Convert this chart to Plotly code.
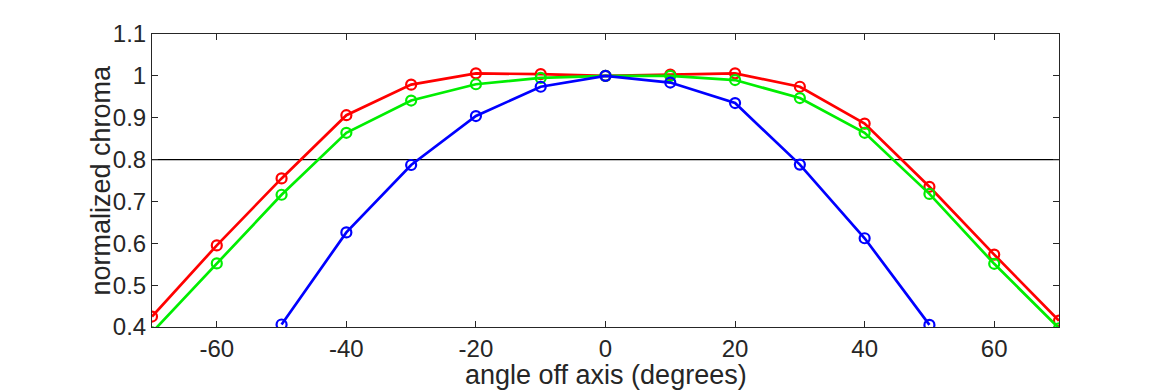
import plotly.graph_objects as go

angles = [-70, -60, -50, -40, -30, -20, -10, 0, 10, 20, 30, 40, 50, 60, 70]
red_vals = [0.425, 0.595, 0.755, 0.906, 0.979, 1.006, 1.004, 1.0, 1.003, 1.006, 0.974, 0.886, 0.735, 0.573, 0.415]
green_vals = [0.387, 0.552, 0.716, 0.864, 0.941, 0.980, 0.995, 1.0, 1.0, 0.990, 0.947, 0.864, 0.718, 0.551, 0.397]
blue_angles = [-50, -40, -30, -20, -10, 0, 10, 20, 30, 40, 50]
blue_vals = [0.406, 0.626, 0.787, 0.904, 0.974, 1.0, 0.984, 0.935, 0.788, 0.612, 0.405]
threshold = 0.8

x_ticks = [-60, -40, -20, 0, 20, 40, 60]
x_ticktext = ["-60", "-40", "-20", "0", "20", "40", "60"]
y_ticks = [0.4, 0.5, 0.6, 0.7, 0.8, 0.9, 1.0, 1.1]
y_ticktext = ["0.4", "0.5", "0.6", "0.7", "0.8", "0.9", "1", "1.1"]
x_title = "angle off axis (degrees)"
y_title = "normalized chroma"

FONT = "Liberation Sans, Arial, Helvetica, sans-serif"
AX = "#262626"

fig = go.Figure()

fig.add_trace(go.Scatter(
    x=[angles[0], angles[-1]], y=[threshold, threshold], mode="lines",
    line=dict(color="black", width=1.2), showlegend=False, hoverinfo="skip"))

for xs, ys, col in [(angles, red_vals, "#ff0000"),
                    (angles, green_vals, "#00ee00"),
                    (blue_angles, blue_vals, "#0000ff")]:
    fig.add_trace(go.Scatter(
        x=xs, y=ys, mode="lines+markers",
        line=dict(color=col, width=2.7),
        marker=dict(symbol="circle-open", size=10, color=col, line=dict(width=2.2, color=col)),
        showlegend=False))

# page body has an 8px default margin, so the figure is sized to compensate
fig.update_layout(
    width=1162, height=382,
    margin=dict(l=144, r=111, t=21, b=63),
    paper_bgcolor="white", plot_bgcolor="white",
    font=dict(family=FONT, color=AX, size=24),
    xaxis=dict(
        range=[-70, 70], tickvals=x_ticks, ticktext=x_ticktext,
        ticks="inside", ticklen=6, tickcolor=AX, tickwidth=1,
        showline=True, linecolor=AX, linewidth=1, mirror="allticks",
        showgrid=False, zeroline=False,
        tickfont=dict(size=24, color=AX),
    ),
    yaxis=dict(
        range=[0.4, 1.1], tickvals=y_ticks, ticktext=y_ticktext,
        ticks="inside", ticklen=6, tickcolor=AX, tickwidth=1,
        showline=True, linecolor=AX, linewidth=1, mirror="allticks",
        showgrid=False, zeroline=False,
        tickfont=dict(size=24, color=AX),
    ),
    annotations=[
        dict(text=x_title, xref="paper", yref="paper", x=0.5, y=-0.164,
             xanchor="center", yanchor="middle", showarrow=False,
             font=dict(size=27, color=AX, family=FONT)),
        dict(text=y_title, xref="paper", yref="paper", x=-0.0573, y=0.5,
             xanchor="center", yanchor="middle", textangle=-90, showarrow=False,
             font=dict(size=27, color=AX, family=FONT)),
    ],
)

fig.write_html("out.html")
